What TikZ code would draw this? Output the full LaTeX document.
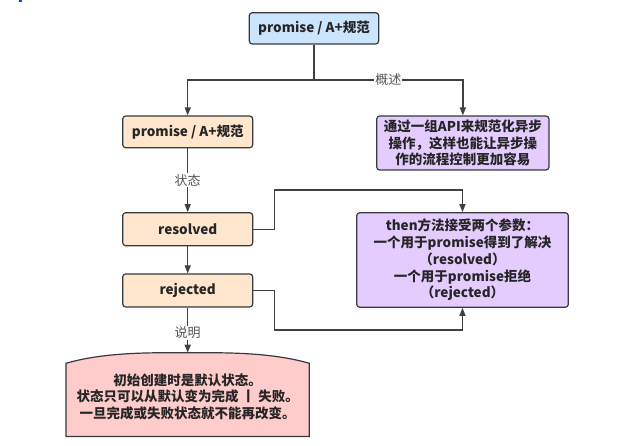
\documentclass[tikz,border=0pt]{standalone}
\usepackage{fontspec}
\setmainfont{Noto Sans CJK SC}
\usetikzlibrary{arrows.meta}
\definecolor{lineC}{HTML}{404040}
\definecolor{bordC}{HTML}{36393D}
\definecolor{blueF}{HTML}{CCE5FF}
\definecolor{orangeF}{HTML}{FFE6CC}
\definecolor{purpleF}{HTML}{E5CCFF}
\definecolor{pinkF}{HTML}{FFCCCC}
\definecolor{labelC}{HTML}{555555}
\tikzset{
  box/.style={draw=bordC, line width=1.2pt, rounded corners=3pt, inner sep=0pt, align=center,
    font=\fontsize{13.5}{16.7}\selectfont\bfseries, text=black!85},
  conn/.style={draw=lineC, line width=1.3pt, -{Triangle[length=8pt,width=6pt]}},
  plainline/.style={draw=lineC, line width=1.3pt},
  lbl/.style={fill=white, inner sep=1pt, text=labelC, font=\fontsize{13}{14}\selectfont}
}
\begin{document}
\begin{tikzpicture}[x=1pt,y=-1pt]
\useasboundingbox (0,0) rectangle (632,446);
\fill[blue!70!cyan] (19,0) rectangle (22,2);
% nodes
\node[box, fill=blueF, minimum width=129.4pt, minimum height=31.3pt] (top) at (314,28.35) {promise / A+规范};
\node[box, fill=orangeF, minimum width=130pt, minimum height=31.7pt] (spec) at (187.7,131.85) {promise / A+规范};
\node[box, fill=purpleF, minimum width=172.3pt, minimum height=54pt] (desc) at (462.85,143) {通过一组API来规范化异步\\操作，这样也能让异步操\\作的流程控制更加容易};
\node[box, fill=orangeF, minimum width=130pt, minimum height=33pt] (res) at (187.7,229.2) {resolved};
\node[box, fill=orangeF, minimum width=130pt, minimum height=33pt] (rej) at (187.7,290.5) {rejected};
\node[box, fill=purpleF, minimum width=211.6pt, minimum height=94.6pt] (then) at (462.5,260) {then方法接受两个参数：\\一个用于promise得到了解决\\（resolved）\\一个用于promise拒绝\\（rejected）};
% pink shape
\coordinate (pinktop) at (187.7,352.7);
\filldraw[fill=pinkF, draw=bordC, line width=1.2pt]
  (66,363.3) .. controls (105,352) and (150,352.7) .. (pinktop)
  .. controls (225,352.7) and (270,352) .. (309.3,363.3)
  -- (309.3,436.5) -- (66,436.5) -- cycle;
\node[align=center, font=\fontsize{13.5}{16.7}\selectfont\bfseries, text=black!85] (note) at (187.7,396.7) {初始创建时是默认状态。\\状态只可以从默认变为完成 丨 失败。\\一旦完成或失败状态就不能再改变。};
% connectors
\coordinate (j) at (314,80);
\draw[plainline] (top.south) -- (j);
\draw[conn] (j) -| (spec.north);
\draw[conn] (j) -| (desc.north) node[lbl, pos=0.25] {概述};
\draw[conn] (spec.south) -- (res.north) node[lbl, midway] {状态};
\draw[conn] (res.south) -- (rej.north);
\coordinate (r1) at (274.7,190);
\coordinate (r2) at (274.7,330);
\draw[conn] (res.east) -| (r1) -| (then.north);
\draw[conn] (rej.east) -| (r2) -| (then.south);
\draw[conn] (rej.south) -- (pinktop) node[lbl, pos=0.56] {说明};
\end{tikzpicture}
\end{document}
